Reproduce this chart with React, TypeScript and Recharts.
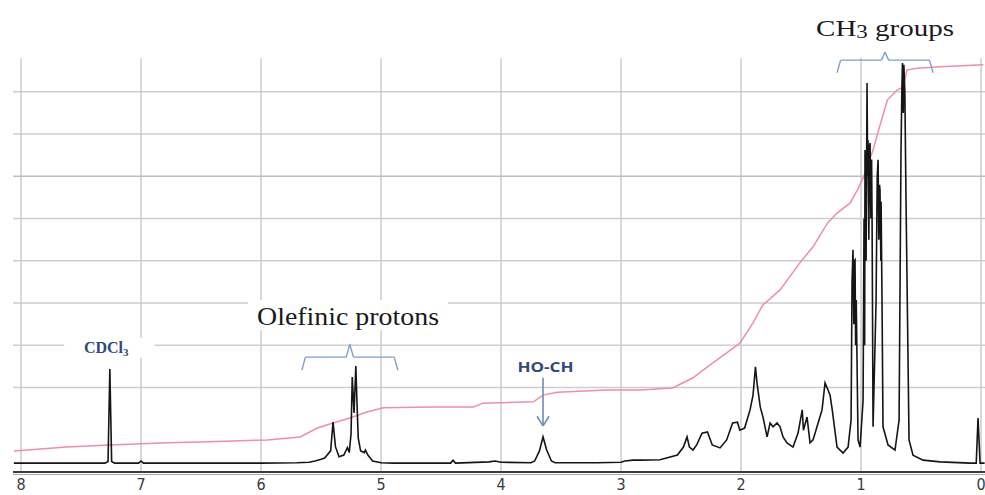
import React from "react";
import { LineChart, Line, XAxis, YAxis, ReferenceLine, ReferenceDot } from "recharts";

// chemical shift ticks (ppm), read right-to-left like the spectrum
const ppmTicks = [8, 7, 6, 5, 4, 3, 2, 1, 0];
const gridLevels = [20, 30, 40, 50, 60, 70, 80, 90];

// 1H spectrum trace: ppm -> intensity
const spectrumPpm = [
    8.06, 7.3, 7.275, 7.26, 7.245, 7.22, 7.02, 7.0, 6.98, 6.0, 5.7, 5.6, 5.55, 5.5,
    5.47, 5.42, 5.4, 5.38, 5.35, 5.31, 5.28, 5.265, 5.25, 5.24, 5.225, 5.21, 5.2, 5.19,
    5.17, 5.14, 5.13, 5.11, 5.07, 5.0, 4.9, 4.42, 4.4, 4.38, 4.1, 4.05, 4.0, 3.75,
    3.72, 3.68, 3.65, 3.62, 3.58, 3.55, 3.2, 3.0, 2.97, 2.9, 2.84, 2.675, 2.53, 2.48,
    2.45, 2.43, 2.4, 2.37, 2.325, 2.28, 2.24, 2.175, 2.12, 2.07, 2.03, 2.01, 1.97, 1.925,
    1.9, 1.88, 1.867, 1.84, 1.817, 1.783, 1.758, 1.733, 1.7, 1.675, 1.65, 1.617, 1.567, 1.525,
    1.49, 1.48, 1.45, 1.425, 1.4, 1.367, 1.325, 1.3, 1.275, 1.258, 1.24, 1.2, 1.15, 1.108,
    1.083, 1.075, 1.067, 1.06, 1.055, 1.05, 1.045, 1.04, 1.025, 1.008, 0.983, 0.975, 0.97, 0.967,
    0.958, 0.95, 0.945, 0.942, 0.935, 0.93, 0.925, 0.918, 0.912, 0.908, 0.9, 0.875, 0.865, 0.858,
    0.852, 0.846, 0.842, 0.835, 0.833, 0.825, 0.817, 0.775, 0.717, 0.683, 0.667, 0.66, 0.655, 0.648,
    0.643, 0.635, 0.625, 0.6, 0.567, 0.483, 0.34, 0.09, 0.04, 0.025, 0.008, -0.03,
];
const spectrumIntensity = [
    2.1, 2.1, 2.5, 24.4, 2.5, 2.1, 2.1, 2.6, 2.1, 2.1, 2.2, 2.3, 2.6, 3.0,
    3.3, 5.0, 11.8, 6.0, 3.6, 4.0, 5.8, 4.6, 9.0, 22.5, 14.0, 25.1, 16.0, 8.0,
    5.0, 4.6, 5.2, 4.0, 2.6, 2.2, 2.1, 2.1, 2.8, 2.1, 2.4, 2.6, 2.3, 2.2,
    2.6, 5.0, 8.3, 5.2, 2.6, 2.2, 2.2, 2.3, 2.6, 2.8, 2.8, 2.9, 4.0, 5.9,
    8.3, 5.9, 5.2, 6.4, 9.2, 9.5, 6.4, 5.7, 7.6, 11.6, 11.8, 9.9, 10.4, 14.7,
    18.2, 24.9, 21.1, 15.4, 13.0, 8.3, 11.6, 10.7, 11.6, 10.7, 8.3, 6.9, 5.9, 9.2,
    14.7, 9.9, 13.0, 6.9, 7.6, 10.7, 14.7, 21.1, 19.4, 18.2, 14.7, 5.9, 4.5, 5.9,
    12.3, 45.0, 52.6, 35.0, 50.0, 50.2, 30.0, 40.7, 7.6, 5.9, 17.0, 60.0, 30.0, 76.2,
    50.0, 92.1, 70.0, 78.6, 55.0, 77.0, 77.9, 60.0, 74.0, 60.0, 10.7, 40.0, 70.0, 73.9,
    55.0, 68.0, 66.8, 50.0, 64.0, 40.0, 10.7, 6.4, 5.2, 12.3, 76.0, 90.0, 96.8, 85.0,
    96.4, 90.0, 64.0, 7.6, 4.0, 2.8, 2.4, 2.1, 2.1, 12.8, 2.1, 2.1,
];

// integral curve: ppm -> cumulative height
const integralPpm = [
    8.06, 7.62, 7.26, 6.78, 6.51, 5.95, 5.675, 5.53, 5.4, 5.26, 5.117, 4.98, 4.57, 4.23,
    4.15, 3.73, 3.65, 3.53, 3.12, 2.84, 2.57, 2.4, 2.28, 2.12, 2.01, 1.9, 1.82, 1.675,
    1.51, 1.4, 1.28, 1.2, 1.09, 1.03, 0.98, 0.9, 0.86, 0.78, 0.7, 0.65, 0.617, 0.53,
    0.34, -0.02,
];
const integralValue = [
    5.0, 5.9, 6.4, 6.9, 7.1, 7.6, 8.3, 10.4, 11.6, 12.8, 14.2, 15.2, 15.4, 15.4,
    16.3, 16.6, 18.2, 18.9, 19.4, 19.4, 19.9, 22.3, 24.9, 28.2, 30.5, 35.3, 39.5, 43.1,
    49.5, 53.3, 58.9, 61.3, 63.7, 66.8, 69.8, 76.2, 80.3, 88.1, 90.4, 91.1, 95.2, 95.6,
    95.9, 96.4,
];

const spectrum = spectrumPpm.map((ppm, i) => ({ ppm, v: spectrumIntensity[i] }));
const integral = integralPpm.map((ppm, i) => ({ ppm, v: integralValue[i] }));

const braceBlue = "#7f9fc8";
const labelNavy = "#2f4a7c";
const gridGrey = "#cdcdcd";

// curly brace drawn as short segments (x in ppm, y in intensity units)
function braceSegments(left: number, right: number, low: number, high: number, tip: number) {
    const mid = (left + right) / 2;
    const e = 0.03;
    const pts: [number, number][] = [
        [left, low], [left - e, high], [mid + e, high], [mid, tip],
        [mid - e, high], [right + e, high], [right, low],
    ];
    return pts.slice(1).map((p, i) => [
        { x: pts[i][0], y: pts[i][1] },
        { x: p[0], y: p[1] },
    ]);
}

const ch3Brace = braceSegments(1.2, 0.4, 94.5, 97.5, 99.4);
const olefinBrace = braceSegments(5.66, 4.86, 24.1, 27.2, 30.2);

export default function App() {
    return (
        <div style={{ position: "absolute", left: 0, top: 0, width: 985, height: 495, background: "#fff" }}>
            <LineChart width={985} height={495} margin={{ top: 58, right: 0, bottom: 0, left: 13 }}>
                <XAxis
                    type="number"
                    dataKey="ppm"
                    domain={[-0.033, 8.067]}
                    reversed
                    allowDataOverflow
                    ticks={ppmTicks}
                    height={23}
                    tickSize={0}
                    tickMargin={7}
                    axisLine={{ stroke: "#3c3c3c", strokeWidth: 2 }}
                    tick={{ fill: "#3a3a3a", fontSize: 16, fontFamily: "'Liberation Sans Narrow', 'DejaVu Sans Condensed', 'Liberation Sans', sans-serif" }}
                />
                <YAxis hide type="number" domain={[0, 98]} allowDataOverflow />

                {/* grid */}
                {ppmTicks.map((t) => (
                    <ReferenceLine key={"vx" + t} x={t} stroke={gridGrey} strokeWidth={1.5} />
                ))}
                {gridLevels.map((g) => (
                    <ReferenceLine key={"hy" + g} y={g} stroke={g === 70 ? "#bdbdbd" : gridGrey} strokeWidth={1.5} />
                ))}
                <ReferenceLine y={-0.6} stroke="#a8a8a8" strokeWidth={1} ifOverflow="visible" />

                <Line data={integral} dataKey="v" type="linear" stroke="#ee8fa2" strokeWidth={1.5} dot={false} isAnimationActive={false} />
                <Line data={spectrum} dataKey="v" type="linear" stroke="#151515" strokeWidth={1.6} dot={false} isAnimationActive={false} />

                {ch3Brace.map((seg, i) => (
                    <ReferenceLine key={"c" + i} segment={seg} stroke={braceBlue} strokeWidth={1.4} ifOverflow="visible" />
                ))}
                {olefinBrace.map((seg, i) => (
                    <ReferenceLine key={"o" + i} segment={seg} stroke={braceBlue} strokeWidth={1.4} ifOverflow="visible" />
                ))}

                {/* HO-CH arrow */}
                <ReferenceLine segment={[{ x: 3.65, y: 22.3 }, { x: 3.65, y: 10.9 }]} stroke="#6d8fbb" strokeWidth={1.6} ifOverflow="visible" />
                <ReferenceLine segment={[{ x: 3.7, y: 13.2 }, { x: 3.65, y: 10.9 }]} stroke="#6d8fbb" strokeWidth={1.6} ifOverflow="visible" />
                <ReferenceLine segment={[{ x: 3.6, y: 13.2 }, { x: 3.65, y: 10.9 }]} stroke="#6d8fbb" strokeWidth={1.6} ifOverflow="visible" />

                <ReferenceDot
                    x={0.8}
                    y={105.1}
                    r={0}
                    ifOverflow="visible"
                    shape={(p: any) => (
                        <text x={p.cx} y={p.cy} textAnchor="middle" dominantBaseline="central" fontFamily="'Liberation Serif', serif" fontSize={24} fill="#1a1a1a" textLength={138} lengthAdjust="spacingAndGlyphs">
                            CH<tspan fontSize={19} dy={3}>3</tspan>
                            <tspan dy={-3}> groups</tspan>
                        </text>
                    )}
                />
                <ReferenceDot
                    x={5.275}
                    y={36.9}
                    r={0}
                    ifOverflow="visible"
                    shape={(p: any) => (
                        <g>
                            <rect x={p.cx - 100} y={p.cy - 16} width={200} height={30} fill="#fff" />
                            <text x={p.cx} y={p.cy} textAnchor="middle" dominantBaseline="central" fontFamily="'Liberation Serif', serif" fontSize={25} fill="#1a1a1a" textLength={182} lengthAdjust="spacingAndGlyphs">
                                Olefinic protons
                            </text>
                        </g>
                    )}
                />
                <ReferenceDot
                    x={7.29}
                    y={29.4}
                    r={0}
                    ifOverflow="visible"
                    shape={(p: any) => (
                        <g>
                            <rect x={p.cx - 42} y={p.cy - 10} width={90} height={20} fill="#fff" />
                            <text x={p.cx} y={p.cy} textAnchor="middle" dominantBaseline="central" fontFamily="'Liberation Serif', serif" fontWeight="bold" fontSize={16} fill={labelNavy}>
                                CDCl<tspan fontSize={11} dy={4}>3</tspan>
                            </text>
                        </g>
                    )}
                />
                <ReferenceDot
                    x={3.63}
                    y={25.1}
                    r={0}
                    ifOverflow="visible"
                    shape={(p: any) => (
                        <text x={p.cx} y={p.cy} textAnchor="middle" dominantBaseline="central" fontFamily="'Open Sans', 'Liberation Sans', sans-serif" fontWeight="bold" fontSize={15} fill={labelNavy} textLength={56} lengthAdjust="spacingAndGlyphs">
                            HO-CH
                        </text>
                    )}
                />
            </LineChart>
        </div>
    );
}
